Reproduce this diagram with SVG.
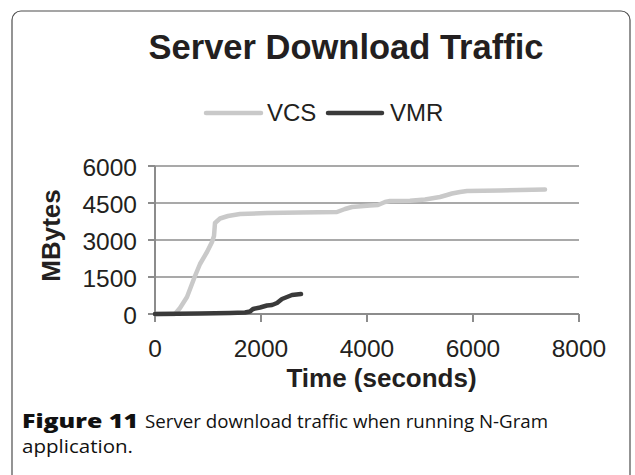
<svg xmlns="http://www.w3.org/2000/svg" width="635" height="475" viewBox="0 0 635 475">
  <style>
    .frame { fill: #ffffff; stroke: #4d4d4d; stroke-width: 1.2; }
    .chart-text { font-family: "Liberation Sans", Arial, sans-serif; fill: #231f20; }
    .title { font-size: 34.5px; font-weight: bold; }
    .legend { font-size: 24px; }
    .tick-label { font-size: 24.5px; }
    .axis-title { font-size: 26px; font-weight: bold; }
    .grid { stroke: #8c8c8c; stroke-width: 1.5; fill: none; }
    .axis { stroke: #8c8c8c; stroke-width: 2; fill: none; }
    .series { fill: none; stroke-width: 4.5; stroke-linecap: round; stroke-linejoin: round; }
    .vcs { stroke: #c9c9c9; }
    .vmr { stroke: #3a3a3a; }
    .caption { font-family: "Open Sans", "Noto Sans", sans-serif; fill: #111111; }
    .caption-bold { font-weight: 800; font-size: 20px; }
    .caption-regular { font-weight: 500; font-size: 18.8px; }
  </style>

  <!-- figure frame, open at the bottom edge -->
  <rect class="frame" x="12" y="11" width="618" height="490" rx="9" ry="9"/>

  <!-- chart title -->
  <text class="chart-text title" x="346" y="59" text-anchor="middle">Server Download Traffic</text>

  <!-- legend -->
  <g id="legend">
    <line class="series vcs" x1="206" y1="113" x2="261" y2="113"/>
    <text class="chart-text legend" x="267" y="121">VCS</text>
    <line class="series vmr" x1="328" y1="113" x2="382" y2="113"/>
    <text class="chart-text legend" x="390" y="121">VMR</text>
  </g>

  <!-- gridlines -->
  <g id="grid">
    <line class="grid" x1="155" y1="166" x2="579" y2="166"/>
    <line class="grid" x1="155" y1="203" x2="579" y2="203"/>
    <line class="grid" x1="155" y1="240" x2="579" y2="240"/>
    <line class="grid" x1="155" y1="277" x2="579" y2="277"/>
  </g>

  <!-- axes with tick marks -->
  <g id="axes">
    <line class="axis" x1="155" y1="166" x2="155" y2="322"/>
    <line class="axis" x1="148" y1="314" x2="579" y2="314"/>
    <path class="axis" d="M148,166 H155 M148,203 H155 M148,240 H155 M148,277 H155
                          M261,314 V322 M367,314 V322 M473,314 V322 M579,314 V322"/>
  </g>

  <!-- y tick labels -->
  <g id="y-labels" class="chart-text tick-label" text-anchor="end">
    <text x="137" y="176">6000</text>
    <text x="137" y="213">4500</text>
    <text x="137" y="250">3000</text>
    <text x="137" y="287">1500</text>
    <text x="137" y="324">0</text>
  </g>

  <!-- x tick labels -->
  <g id="x-labels" class="chart-text tick-label" text-anchor="middle">
    <text x="155" y="357">0</text>
    <text x="261" y="357">2000</text>
    <text x="367" y="357">4000</text>
    <text x="473" y="357">6000</text>
    <text x="579" y="357">8000</text>
  </g>

  <!-- axis titles -->
  <text class="chart-text axis-title" x="381.5" y="387" text-anchor="middle">Time (seconds)</text>
  <text class="chart-text axis-title" transform="translate(60,235.5) rotate(-90)" text-anchor="middle">MBytes</text>

  <!-- data series -->
  <g id="series">
    <polyline id="vcs" class="series vcs" points="155,314 175,314 180,308 187,297 195,276 200,264 207,252 212,242 214,236 215,223 220,218.5 228,216 240,214 267,213 300,212.5 337,212 345,209 352,207 370,205.5 378,205 385,202 390,201 410,200.7 425,199.5 440,197 447,195 452,193.5 460,192 467,191 500,190.5 545,189.5"/>
    <polyline id="vmr" class="series vmr" points="155,314 200,313.5 230,313 245,312.5 250,311.5 253,309 260,307.5 267,305.5 272,305 277,303 282,299 287,297 292,295 301,294"/>
  </g>

  <!-- figure caption -->
  <g id="caption" class="caption">
    <text class="caption-bold" x="22" y="428" textLength="116" lengthAdjust="spacingAndGlyphs">Figure 11</text>
    <text class="caption-regular" x="145" y="428" textLength="403" lengthAdjust="spacingAndGlyphs">Server download traffic when running N-Gram</text>
    <text class="caption-regular" x="22" y="453" textLength="111" lengthAdjust="spacingAndGlyphs">application.</text>
  </g>
</svg>
